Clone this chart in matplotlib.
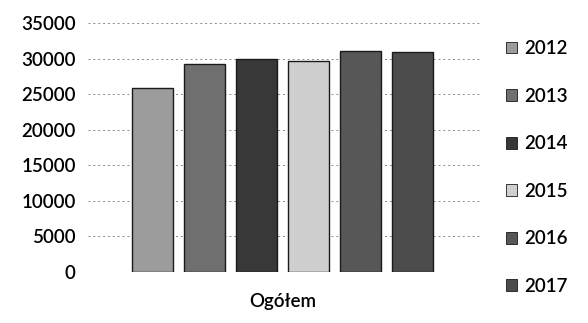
import matplotlib.pyplot as plt
from matplotlib.patches import Patch

# Dane
years = ["2012", "2013", "2014", "2015", "2016", "2017"]
values = [25800, 29200, 29900, 29700, 31000, 30900]
colors = ["#9c9c9c", "#6f6f6f", "#383838", "#cfcfcf", "#575757", "#4c4c4c"]
category = "Ogółem"
y_ticks = [0, 5000, 10000, 15000, 20000, 25000, 30000, 35000]

plt.rcParams["font.family"] = ["Lato", "DejaVu Sans"]

fig = plt.figure(figsize=(5.88, 3.23), dpi=100)
ax = fig.add_axes([0.150, 0.158, 0.670, 0.771])

positions = list(range(len(years)))
ax.bar(positions, values, width=0.79, color=colors, edgecolor="#1a1a1a",
       linewidth=1.0, zorder=3)

ax.set_xlim(-1.24, 6.35)
ax.set_ylim(0, 35000)
ax.set_yticks(y_ticks)
ax.set_yticklabels([str(t) for t in y_ticks], fontsize=13.5, fontweight="semibold")
ax.set_xticks([2.5])
ax.set_xticklabels([category], fontsize=13.5, fontweight="semibold")
ax.tick_params(axis="both", length=0)
ax.tick_params(axis="x", pad=15)
ax.tick_params(axis="y", pad=9)

ax.grid(axis="y", color="#8a8a8a", linestyle=(0, (2, 3)), linewidth=0.7, zorder=0)
for s in ax.spines.values():
    s.set_visible(False)

handles = [Patch(facecolor=c, edgecolor="#1a1a1a", linewidth=0.6) for c in colors]
fig.legend(handles, years, loc="upper left", bbox_to_anchor=(0.831, 0.928),
           frameon=False, prop={"size": 13.5, "weight": "semibold"},
           labelspacing=1.63, handlelength=0.6, handleheight=0.6,
           handletextpad=0.4)

fig.savefig("out.png", dpi=100)
